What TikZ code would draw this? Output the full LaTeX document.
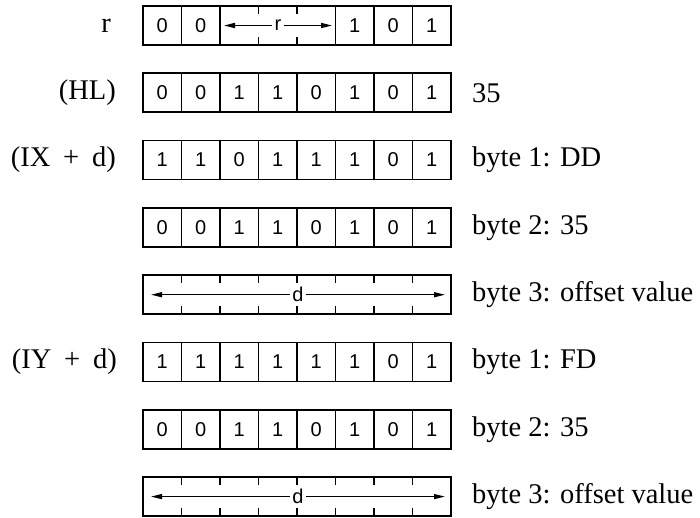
\documentclass[tikz,border=0pt]{standalone}
\usepackage{fontspec}
\setmainfont{Liberation Serif}
\newfontfamily\digfont{Liberation Sans}
\usetikzlibrary{arrows.meta}
\tikzset{
  regbox/.style={draw, line width=1.7pt, minimum width=308pt, minimum height=39pt, inner sep=0pt},
  digit/.style={font=\digfont\fontsize{20}{20}\selectfont, inner sep=0pt},
  cellline/.style={line width=1.5pt},
  tick/.style={line width=1.5pt},
  dimarrow/.style={line width=1.3pt, {Triangle[length=11pt,width=5pt]}-{Triangle[length=11pt,width=5pt]}},
  dimlabel/.style={font=\digfont\fontsize{20}{20}\selectfont, fill=white, inner sep=2.5pt},
  leftlab/.style={anchor=east, font=\fontsize{28.5}{30}\selectfont, inner sep=0pt},
  rightlab/.style={anchor=west, font=\fontsize{28.5}{30}\selectfont, inner sep=0pt},
}
\newcommand\regrow[3]{%
  \node[regbox] (#1) at (297,#2+19.5) {};
  \foreach \dd [count=\ii from 0] in {#3} {
    \node[digit] (#1-\ii) at (162.25+38.5*\ii, #2+19.5) {\dd};
  }
  \foreach \ii in {1,...,7} \draw[cellline] (143+38.5*\ii, #2) -- ++(0,39);
}
\newcommand\offrow[2]{%
  \node[regbox] (#1) at (297,#2+19.5) {};
  \foreach \ii in {1,...,7} {
    \draw[tick] (143+38.5*\ii, #2) -- ++(0,8);
    \draw[tick] (143+38.5*\ii, #2+39) -- ++(0,-8);
  }
  \coordinate (#1-l) at (151,#2+19.5);
  \coordinate (#1-r) at (445,#2+19.5);
  \draw[dimarrow] (#1-l) -- (#1-r) node[dimlabel, midway] (#1-d) {d};
}
\newcommand\wsp{\hspace{0.45em}}
\begin{document}
\begin{tikzpicture}[x=1pt,y=-1pt]
\useasboundingbox (0,0) rectangle (700,517);
% row r
\node[regbox] (rA) at (297,25.5) {};
\node[digit] (rA-0) at (162.25,25.5) {0};
\node[digit] (rA-1) at (200.75,25.5) {0};
\node[digit] (rA-5) at (354.75,25.5) {1};
\node[digit] (rA-6) at (393.25,25.5) {0};
\node[digit] (rA-7) at (431.75,25.5) {1};
\foreach \ii in {1,2,5,6,7} \draw[cellline] (143+38.5*\ii, 6) -- ++(0,39);
\foreach \ii in {3,4} {
  \draw[tick] (143+38.5*\ii, 6) -- ++(0,8);
  \draw[tick] (143+38.5*\ii, 45) -- ++(0,-8);
}
\coordinate (rA-l) at (224,25.5);
\coordinate (rA-r) at (332,25.5);
\draw[dimarrow] (rA-l) -- (rA-r) node[dimlabel, midway] (rA-d) {r};
\node[leftlab] (labA) at (111,25.5) {r};
% HL
\regrow{rB}{73.3}{0,0,1,1,0,1,0,1}
\node[leftlab] (labB) at (116,92.8) {(HL)};
\node[rightlab] (rlabB) at (472,92.8) {35};
% IX
\regrow{rC}{140.6}{1,1,0,1,1,1,0,1}
\node[leftlab] (labC) at (116,160.1) {(IX\wsp+\wsp d)};
\node[rightlab] (rlabC) at (472,160.1) {byte 1: DD};
\regrow{rD}{207.9}{0,0,1,1,0,1,0,1}
\node[rightlab] (rlabD) at (472,227.4) {byte 2: 35};
\offrow{rE}{275.2}
\node[rightlab] (rlabE) at (472,294.7) {byte 3: offset value};
% IY
\regrow{rF}{342.5}{1,1,1,1,1,1,0,1}
\node[leftlab] (labF) at (117,362) {(IY\wsp+\wsp d)};
\node[rightlab] (rlabF) at (472,362) {byte 1: FD};
\regrow{rG}{409.8}{0,0,1,1,0,1,0,1}
\node[rightlab] (rlabG) at (472,429.3) {byte 2: 35};
\offrow{rH}{477.1}
\node[rightlab] (rlabH) at (472,496.6) {byte 3: offset value};
\end{tikzpicture}
\end{document}
